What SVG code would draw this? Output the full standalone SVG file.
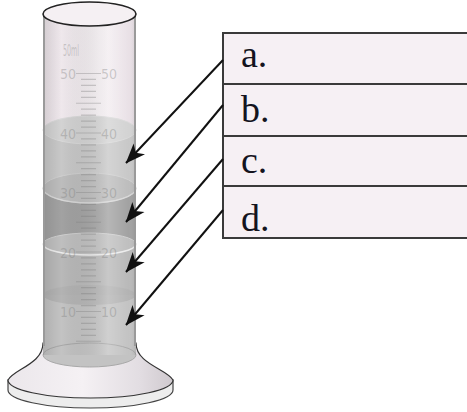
<svg xmlns="http://www.w3.org/2000/svg" width="467" height="412" viewBox="0 0 467 412">
<defs>
<style>
.box{fill:#f6f0f4;stroke:#3a3a3a;stroke-width:2}
.lbl{font-family:"Liberation Serif","Times New Roman",serif;font-size:38px;fill:#14141e}
.conn{stroke:#111;stroke-width:2;fill:none;marker-end:url(#ah)}
.scale{font-family:"DejaVu Sans Condensed","Liberation Sans Narrow","Liberation Sans",sans-serif;font-size:14px;fill:#7a7a7a;fill-opacity:0.35}
.tick{stroke:#7a7a7a;stroke-opacity:0.35;stroke-width:1.2;fill:none}
.wall{stroke:#9a9a9a;stroke-width:2;fill:none}
</style>
<marker id="ah" markerUnits="userSpaceOnUse" markerWidth="20" markerHeight="18" viewBox="0 0 19 16" refX="18.5" refY="8" orient="auto">
<path d="M0,0.5 L19,8 L0,15.5 L5,8 Z" fill="#111"/>
</marker>
<linearGradient id="glass" x1="0" y1="0" x2="1" y2="0">
<stop offset="0" stop-color="#ebe3e8"/>
<stop offset="0.6" stop-color="#f6f1f4"/>
<stop offset="1" stop-color="#e6dde3"/>
</linearGradient>
<linearGradient id="shade" x1="0" y1="0" x2="1" y2="0">
<stop offset="0" stop-color="#000" stop-opacity="0.10"/>
<stop offset="0.2" stop-color="#000" stop-opacity="0"/>
<stop offset="0.7" stop-color="#fff" stop-opacity="0.22"/>
<stop offset="0.92" stop-color="#fff" stop-opacity="0"/>
<stop offset="1" stop-color="#000" stop-opacity="0.08"/>
</linearGradient>
<linearGradient id="baseg" x1="0" y1="0" x2="1" y2="0">
<stop offset="0" stop-color="#ebe7eb"/>
<stop offset="0.45" stop-color="#f5f1f4"/>
<stop offset="0.8" stop-color="#e2dde2"/>
<stop offset="1" stop-color="#cfc9ce"/>
</linearGradient>
</defs>

<g id="cylinder">
<path d="M8,380 L8,390 A82.5,18 0 0 0 173,390 L173,380 Z" fill="#ededed" stroke="#444" stroke-width="1.2"/>
<path d="M43,343 C43,364 14,369 8,380 A82.5,18 0 0 0 173,380 C167,369 136,364 136,343 Z" fill="url(#baseg)" stroke="#333" stroke-width="1.2"/>
<rect x="43" y="14" width="93" height="120" fill="url(#glass)"/>
<path d="M43,295 L43,355 A46.5,12 0 0 0 136,355 L136,295 Z" fill="#c3c3c3"/>
<ellipse cx="89.5" cy="355" rx="46.5" ry="12" fill="none" stroke="#a8a8a8" stroke-width="1"/>
<rect x="43" y="244" width="93" height="51" fill="#b9b9b9"/>
<rect x="43" y="188" width="93" height="56" fill="#a2a2a2"/>
<rect x="43" y="130" width="93" height="58" fill="#c8c8c8"/>
<ellipse cx="89.5" cy="295" rx="46.5" ry="10" fill="#b2b2b2" fill-opacity="0.8"/>
<ellipse cx="89.5" cy="244" rx="46.5" ry="11" fill="#bfbfbf" stroke="#d0d0d0" stroke-width="1"/>
<path d="M43,244 A46.5,11 0 0 0 136,244" fill="none" stroke="#ececec" stroke-width="1.6"/>
<ellipse cx="89.5" cy="188" rx="46.5" ry="15" fill="#bdbdbd" stroke="#d0d0d0" stroke-width="1"/>
<path d="M43,188 A46.5,15 0 0 0 136,188" fill="none" stroke="#d8d8d8" stroke-width="1.4"/>
<ellipse cx="89.5" cy="130" rx="46.5" ry="14" fill="#d3d3d3" stroke="#dadada" stroke-width="1"/>
<rect x="43" y="14" width="93" height="341" fill="url(#shade)"/>
<path class="tick" d="M81,79.45H96M81,85.4H96M81,91.35H96M81,97.3H96M76,103.25H101M81,109.2H96M81,115.15H96M81,121.1H96M81,127.05H96M81,138.95H96M81,144.9H96M81,150.85H96M81,156.8H96M76,162.75H101M81,168.7H96M81,174.65H96M81,180.6H96M81,186.55H96M81,198.45H96M81,204.4H96M81,210.35H96M81,216.3H96M76,222.25H101M81,228.2H96M81,234.15H96M81,240.1H96M81,246.05H96M81,257.95H96M81,263.9H96M81,269.85H96M81,275.8H96M76,281.75H101M81,287.7H96M81,293.65H96M81,299.6H96M81,305.55H96M81,317.45H96M81,323.4H96M81,329.35H96M81,335.3H96M76,341.25H101"/>
<path class="tick" d="M76,73.5H101M76,133H101M76,192.5H101M76,252H101M76,311.5H101"/>
<text class="scale" x="63" y="56" style="font-size:16px" textLength="16" lengthAdjust="spacingAndGlyphs">50ml</text>
<text class="scale" x="76" y="79" text-anchor="end">50</text>
<text class="scale" x="101" y="79">50</text>
<text class="scale" x="76" y="138.5" text-anchor="end">40</text>
<text class="scale" x="101" y="138.5">40</text>
<text class="scale" x="76" y="198" text-anchor="end">30</text>
<text class="scale" x="101" y="198">30</text>
<text class="scale" x="76" y="257.5" text-anchor="end">20</text>
<text class="scale" x="101" y="257.5">20</text>
<text class="scale" x="76" y="317" text-anchor="end">10</text>
<text class="scale" x="101" y="317">10</text>
<path class="wall" d="M44,14 V346 M135,14 V346"/>
<ellipse cx="89.5" cy="14" rx="46.5" ry="12" fill="#f5f0f3" stroke="#222" stroke-width="1.6"/>
</g>

<g id="box-a">
<rect class="box" x="223" y="33" width="250" height="51"/>
<text class="lbl" x="241" y="67">a.</text>
</g>
<g id="box-b">
<rect class="box" x="223" y="84" width="250" height="52"/>
<text class="lbl" x="241" y="122">b.</text>
</g>
<g id="box-c">
<rect class="box" x="223" y="136" width="250" height="50"/>
<text class="lbl" x="241" y="173">c.</text>
</g>
<g id="box-d">
<rect class="box" x="223" y="186" width="250" height="52"/>
<text class="lbl" x="241" y="231">d.</text>
</g>

<g id="connectors">
<line class="conn" x1="223" y1="60" x2="126" y2="163"/>
<line class="conn" x1="223" y1="105" x2="126" y2="222"/>
<line class="conn" x1="223" y1="159" x2="126" y2="272"/>
<line class="conn" x1="223" y1="210" x2="126" y2="325"/>
</g>
</svg>
